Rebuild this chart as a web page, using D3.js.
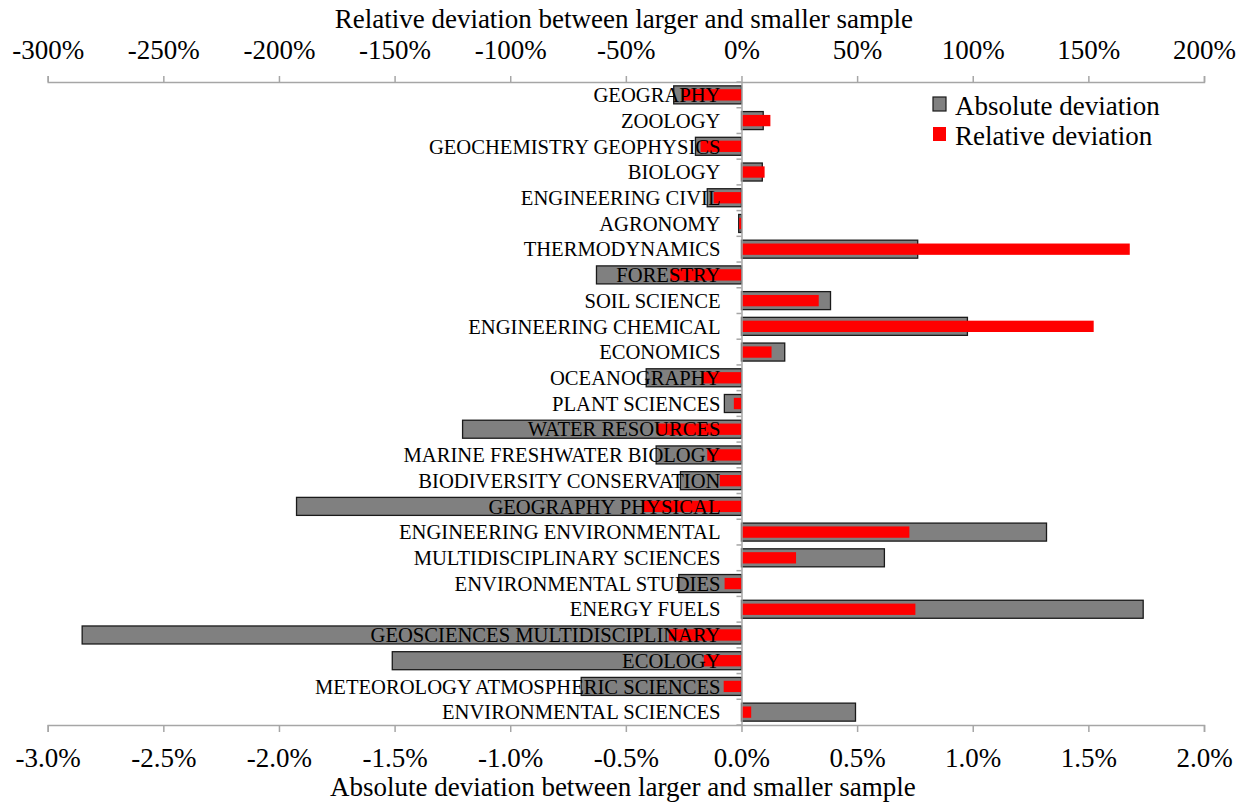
<!DOCTYPE html>
<html><head><meta charset="utf-8">
<script src="https://cdn.jsdelivr.net/npm/d3@7"></script>
<style>body{margin:0;background:#fff}svg{display:block}text{font-family:"Liberation Serif","Times New Roman",serif;fill:#000}</style>
</head><body><svg id="c" width="1247" height="812"></svg>
<script>
const categories = ["GEOGRAPHY","ZOOLOGY","GEOCHEMISTRY GEOPHYSICS","BIOLOGY","ENGINEERING CIVIL","AGRONOMY","THERMODYNAMICS","FORESTRY","SOIL SCIENCE","ENGINEERING CHEMICAL","ECONOMICS","OCEANOGRAPHY","PLANT SCIENCES","WATER RESOURCES","MARINE FRESHWATER BIOLOGY","BIODIVERSITY CONSERVATION","GEOGRAPHY PHYSICAL","ENGINEERING ENVIRONMENTAL","MULTIDISCIPLINARY SCIENCES","ENVIRONMENTAL STUDIES","ENERGY FUELS","GEOSCIENCES MULTIDISCIPLINARY","ECOLOGY","METEOROLOGY ATMOSPHERIC SCIENCES","ENVIRONMENTAL SCIENCES"];
// absolute deviation (fraction)
const absoluteDeviation = [-0.00293,0.00094,-0.00199,0.00090,-0.00148,-0.00012,0.00762,-0.00627,0.00385,0.00977,0.00187,-0.00412,-0.00074,-0.01206,-0.00369,-0.00264,-0.01924,0.01319,0.00618,-0.00271,0.01737,-0.02851,-0.01510,-0.00693,0.00493];
// relative deviation (fraction)
const relativeDeviation = [-0.256,0.125,-0.177,0.100,-0.120,-0.010,1.679,-0.307,0.334,1.523,0.130,-0.170,-0.033,-0.364,-0.148,-0.094,-0.429,0.726,0.236,-0.073,0.752,-0.314,-0.163,-0.077,0.042];
const absTicks = [-0.03,-0.025,-0.02,-0.015,-0.01,-0.005,0,0.005,0.01,0.015,0.02];
const relTicks = [-3,-2.5,-2,-1.5,-1,-0.5,0,0.5,1,1.5,2];
const seriesNames = ["Absolute deviation","Relative deviation"];
const seriesColors = ["#808080","#ff0000"];

const svg = d3.select("#c");
const L = 47.7, R = 1204, T = 82, B = 725;
const xAbs = d3.scaleLinear().domain([-0.03,0.02]).range([L,R]);
const xRel = d3.scaleLinear().domain([-3,2]).range([L,R]);
const y = d3.scaleBand().domain(categories).range([T,B]);
const bh = y.bandwidth();
const axisColor = "#a6a6a6";

// gray bars
svg.append("g").selectAll("rect").data(categories).join("rect")
  .attr("x",(d,i)=>Math.min(xAbs(0),xAbs(absoluteDeviation[i])))
  .attr("width",(d,i)=>Math.abs(xAbs(absoluteDeviation[i])-xAbs(0)))
  .attr("y",d=>y(d)+bh*0.15).attr("height",bh*0.7)
  .attr("fill",seriesColors[0]).attr("stroke","#1a1a1a").attr("stroke-width",1.3);
// red bars
svg.append("g").selectAll("rect").data(categories).join("rect")
  .attr("x",(d,i)=>Math.min(xRel(0),xRel(relativeDeviation[i])))
  .attr("width",(d,i)=>Math.abs(xRel(relativeDeviation[i])-xRel(0)))
  .attr("y",d=>y(d)+bh*0.28).attr("height",bh*0.44)
  .attr("fill",seriesColors[1]);

// axes
const fmtAbs = d=>(d*100).toFixed(1).replace("-0.0","0.0")+"%";
const fmtRel = d=>Math.round(d*100)+"%";
const gTop = svg.append("g").attr("transform",`translate(0,${T})`)
  .call(d3.axisTop(xRel).tickValues(relTicks).tickFormat(fmtRel).tickSizeOuter(0).tickSize(6).tickPadding(17));
const gBot = svg.append("g").attr("transform",`translate(0,${B})`)
  .call(d3.axisBottom(xAbs).tickValues(absTicks).tickFormat(fmtAbs).tickSizeOuter(0).tickSize(7).tickPadding(16));
[gTop,gBot].forEach(g=>{
  g.select(".domain").attr("stroke",axisColor).attr("stroke-width",1.5);
  g.selectAll(".tick line").attr("stroke",axisColor).attr("stroke-width",1.5);
  g.selectAll(".tick text").attr("font-size",27).attr("font-family","Liberation Serif").attr("fill","#000");
});
// vertical category axis
const gY = svg.append("g").attr("transform",`translate(${xAbs(0)},0)`)
  .call(d3.axisLeft(y).tickValues([]).tickSizeOuter(0));
gY.select(".domain").attr("stroke",axisColor).attr("stroke-width",1.5);
svg.append("g").selectAll("line").data(d3.range(categories.length+1)).join("line")
  .attr("x1",xAbs(0)-5).attr("x2",xAbs(0))
  .attr("y1",i=>T+i*bh).attr("y2",i=>T+i*bh)
  .attr("stroke",axisColor).attr("stroke-width",1.5);

// category labels
svg.append("g").selectAll("text").data(categories).join("text")
  .attr("x",xAbs(0)-21).attr("y",d=>y(d)+bh/2).attr("dy","0.35em")
  .attr("text-anchor","end").attr("font-size",20.6).text(d=>d);

// titles
svg.append("text").attr("x",(L+R)/2-2).attr("y",28).attr("text-anchor","middle").attr("font-size",27)
  .text("Relative deviation between larger and smaller sample");
svg.append("text").attr("x",(L+R)/2-3).attr("y",796).attr("text-anchor","middle").attr("font-size",27)
  .text("Absolute deviation between larger and smaller sample");

// legend
const lg = svg.append("g").attr("transform","translate(933,97)");
seriesNames.forEach((n,i)=>{
  lg.append("rect").attr("x",0).attr("y",i*30).attr("width",13).attr("height",14)
    .attr("fill",seriesColors[i]).attr("stroke",i===0?"#1a1a1a":"none").attr("stroke-width",1.2);
  lg.append("text").attr("x",22).attr("y",i*30+18).attr("font-size",27).text(n);
});
</script></body></html>
